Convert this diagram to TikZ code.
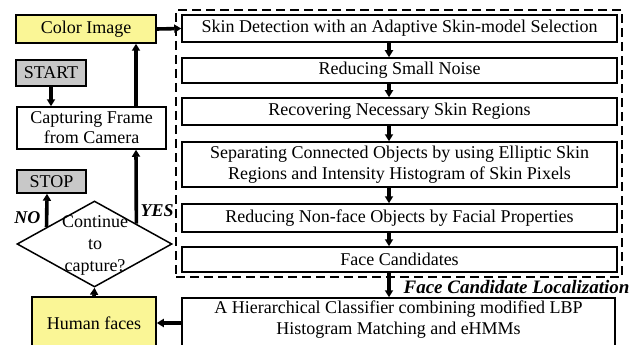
\documentclass[tikz,border=0pt]{standalone}
\usepackage{fontspec}
\setmainfont{Liberation Serif}
\newfontfamily\tmsfont{Liberation Serif}
\usetikzlibrary{shapes.geometric,arrows.meta,calc}
\begin{document}
\begin{tikzpicture}[x=1pt,y=-1pt,
  txt/.style={font=\tmsfont\fontsize{18}{21}\selectfont,align=center},
  box/.style={draw,line width=1.5pt,rectangle,inner sep=0pt,txt},
  rbox/.style={box,minimum width=435pt},
  yel/.style={fill={rgb,255:red,250;green,246;blue,150}},
  gry/.style={fill={rgb,255:red,200;green,200;blue,200}},
  arr/.style={line width=3.6pt,-{Triangle[length=7pt,width=8pt]}},
  lbl/.style={font=\tmsfont\fontsize{18}{21}\selectfont\bfseries\itshape}]
\useasboundingbox (0,0) rectangle (632,345);
% left column
\node[box,yel,minimum width=140pt,minimum height=28pt] (color) at (86,29) {Color Image};
\node[box,gry,minimum width=70pt,minimum height=26pt] (start) at (51,73) {START};
\node[box,minimum width=149pt,minimum height=42pt] (cap) at (91.5,128) {Capturing Frame\\[-1pt]from Camera};
\node[box,gry,minimum width=69pt,minimum height=23pt] (stop) at (51.5,181.5) {STOP};
\node[draw,line width=1.5pt,diamond,aspect=1.8,inner sep=0pt,minimum width=155pt,minimum height=86pt] (dec) at (94.5,244) {};
\node[txt] (dectext) at (95,245) {Continue\\[1pt]to\\[1pt]capture?};
\node[box,yel,minimum width=124pt,minimum height=52pt] (hum) at (94,323) {};
\node[txt] (humtext) at (94,323) {Human faces};
% right column
\node[draw,line width=2pt,dash pattern=on 9pt off 5pt,minimum width=446pt,minimum height=267pt] (frame) at (399,143.5) {};
\node[rbox,minimum height=27pt] (b1) at (399.5,28.5) {Skin Detection with an Adaptive Skin-model Selection};
\node[rbox,minimum height=25pt] (b2) at (399.5,70.5) {Reducing Small Noise};
\node[rbox,minimum height=27pt] (b3) at (399.5,111.5) {Recovering Necessary Skin Regions};
\node[rbox,minimum height=45pt] (b4) at (399.5,164.5) {Separating Connected Objects by using Elliptic Skin\\Regions and Intensity Histogram of Skin Pixels};
\node[rbox,minimum height=28pt] (b5) at (399.5,218) {Reducing Non-face Objects by Facial Properties};
\node[rbox,minimum height=25pt] (b6) at (399.5,259.5) {Face Candidates};
\node[rbox,minimum width=433pt,minimum height=50pt] (b7) at (398.5,323) {};
\node[txt] (b7text) at (398.5,320) {A Hierarchical Classifier combining modified LBP\\Histogram Matching and eHMMs};
\node[lbl,font=\tmsfont\fontsize{19}{21}\selectfont\bfseries\itshape,anchor=east] (fcl) at (633,287) {Face Candidate Localization};
% connectors
\coordinate (ax) at (389,0);
\draw[arr] (color.east) -- (b1.west);
\draw[arr] (b1.south -| ax) -- (b2.north -| ax);
\draw[arr] (b2.south -| ax) -- (b3.north -| ax);
\draw[arr] (b3.south -| ax) -- (b4.north -| ax);
\draw[arr] (b4.south -| ax) -- (b5.north -| ax);
\draw[arr] (b5.south -| ax) -- (b6.north -| ax);
\draw[arr] (b6.south -| ax) -- (b7.north -| ax);
\draw[arr] (b7.west |- hum) -- (hum.east);
\draw[arr] (hum.north) -- (dec.south);
\coordinate (yesx) at (136,0);
\coordinate (nox) at (47,0);
\coordinate (yesp) at ($(dec.north)!0.535!(dec.east)$);
\coordinate (nop) at ($(dec.north)!0.613!(dec.west)$);
\draw[arr] (yesp) -- (cap.south -| yesx);
\draw[arr] (nop) -- (stop.south -| nox);
\draw[arr] (cap.north -| yesx) -- (color.south -| yesx);
\draw[arr] (start.south) -- (cap.north -| start.south);
\node[lbl,anchor=east] (no) at (44,218) {NO};
\node[lbl,anchor=west] (yes) at (137,211) {YES};
\end{tikzpicture}
\end{document}
